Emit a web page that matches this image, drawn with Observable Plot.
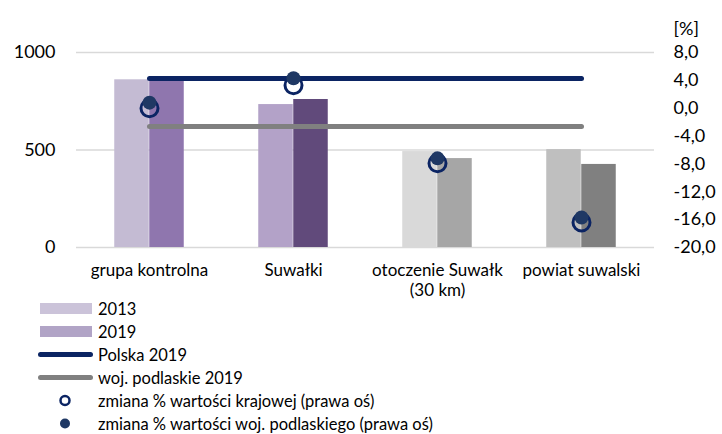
<!DOCTYPE html>
<html>
<head>
<meta charset="utf-8">
<script src="https://cdn.jsdelivr.net/npm/d3@7"></script>
<script src="https://cdn.jsdelivr.net/npm/@observablehq/plot@0.6"></script>
<style>
  body { margin: 0; background: #fff; font-family: Lato, sans-serif; }
  #chart { width: 722px; }
  #chart > svg { overflow: visible; display: block; }
  .legend { font-size: 16.5px; color: #000; margin-top: 1px; }
  .legend .row { display: flex; align-items: center; height: 23px; line-height: 20px; }
  .legend svg { margin-left: 38px; margin-right: 5px; flex: none; }
</style>
</head>
<body>
<div id="chart"></div>
<script>
const categories = ["grupa kontrolna", "Suwałki", "otoczenie Suwałk\n(30 km)", "powiat suwalski"];
const values2013 = [860, 733, 492, 502];
const values2019 = [864, 759, 456, 426];
const colors2013 = ["#c4bbd3", "#b3a2c8", "#d9d9d9", "#bfbfbf"];
const colors2019 = ["#8f76ae", "#614a7b", "#a6a6a6", "#808080"];
const polska2019 = 867;
const podlaskie2019 = 620;
const zmianaKrajowej = [0.0, 3.3, -7.9, -16.4];
const zmianaPodlaskiego = [0.8, 4.3, -7.2, -15.7];
const leftTicks = [0, 500, 1000];
const rightTicks = [8, 4, 0, -4, -8, -12, -16, -20];
const rightMin = -20, rightMax = 8;

// map right-axis value to left-axis units
const toLeft = v => (v - rightMin) / (rightMax - rightMin) * 1000;
const fmt = v => v.toFixed(1).replace(".", ",");

const bars = categories.map((c, i) => ({cat: c, v13: values2013[i], v19: values2019[i], c13: colors2013[i], c19: colors2019[i]}));
const dots = categories.map((c, i) => ({cat: c, k: toLeft(zmianaKrajowej[i]), p: toLeft(zmianaPodlaskiego[i])}));
const lineP = categories.map(c => ({cat: c, y: polska2019}));
const lineW = categories.map(c => ({cat: c, y: podlaskie2019}));

const font = 'Lato, sans-serif';

const plot = Plot.plot({
  width: 722,
  height: 296,
  marginTop: 52,
  marginBottom: 49,
  marginLeft: 76,
  marginRight: 68,
  style: {fontFamily: font, fontSize: "18px", color: "#000", background: "#fff"},
  x: {domain: categories, padding: 0, axis: null},
  y: {domain: [0, 1000], axis: null},
  marks: [
    Plot.ruleY(leftTicks, {stroke: "#d9d9d9", strokeWidth: 1.5}),
    Plot.axisY({ticks: leftTicks, anchor: "left", tickSize: 0, tickPadding: 21, fontSize: 18, label: null, tickFormat: d => String(d)}),
    Plot.axisY({ticks: rightTicks.map(toLeft), anchor: "right", tickSize: 0, tickPadding: 19, fontSize: 18, label: null, textAnchor: "start",
      tickFormat: d => fmt(d / 1000 * (rightMax - rightMin) + rightMin)}),
    Plot.text(["[%]"], {frameAnchor: "top-right", dx: 19, dy: -30, textAnchor: "start", fontSize: 18}),
    Plot.axisX({tickSize: 0, tickPadding: 15, fontSize: 17, label: null, lineHeight: 1.15}),
    Plot.barY(bars, {x: "cat", y: "v13", fill: "c13", insetLeft: 37.25, insetRight: 72.25}),
    Plot.barY(bars, {x: "cat", y: "v19", fill: "c19", insetLeft: 72.25, insetRight: 37.25}),
    Plot.line(lineP, {x: "cat", y: "y", stroke: "#0b2463", strokeWidth: 5, strokeLinecap: "round"}),
    Plot.line(lineW, {x: "cat", y: "y", stroke: "#808080", strokeWidth: 5, strokeLinecap: "round"}),
    Plot.dot(dots, {x: "cat", y: "k", r: 8.5, stroke: "#0b2463", strokeWidth: 3, fill: "none"}),
    Plot.dot(dots, {x: "cat", y: "p", r: 7, fill: "#1f3864", stroke: "none"})
  ]
});
document.getElementById("chart").appendChild(plot);

// legend
const legendItems = [
  {label: "2013", type: "rect", color: "#cbc3d9"},
  {label: "2019", type: "rect", color: "#b1a4c6"},
  {label: "Polska 2019", type: "line", color: "#0b2463"},
  {label: "woj. podlaskie 2019", type: "line", color: "#808080"},
  {label: "zmiana % wartości krajowej (prawa oś)", type: "ring", color: "#0b2463"},
  {label: "zmiana % wartości woj. podlaskiego (prawa oś)", type: "dot", color: "#1f3864"}
];
const legend = d3.select("#chart").append("div").attr("class", "legend");
for (const it of legendItems) {
  const row = legend.append("div").attr("class", "row");
  const s = row.append("svg").attr("width", 55).attr("height", 23);
  if (it.type === "rect") s.append("rect").attr("x", 2).attr("y", 6).attr("width", 52).attr("height", 11).attr("fill", it.color);
  if (it.type === "line") s.append("line").attr("x1", 2.5).attr("x2", 52.5).attr("y1", 11.5).attr("y2", 11.5).attr("stroke", it.color).attr("stroke-width", 5).attr("stroke-linecap", "round");
  if (it.type === "ring") s.append("circle").attr("cx", 27).attr("cy", 11.5).attr("r", 4.5).attr("fill", "none").attr("stroke", it.color).attr("stroke-width", 2.5);
  if (it.type === "dot") s.append("circle").attr("cx", 27).attr("cy", 11.5).attr("r", 5).attr("fill", it.color);
  row.append("span").text(it.label);
}
</script>
</body>
</html>
